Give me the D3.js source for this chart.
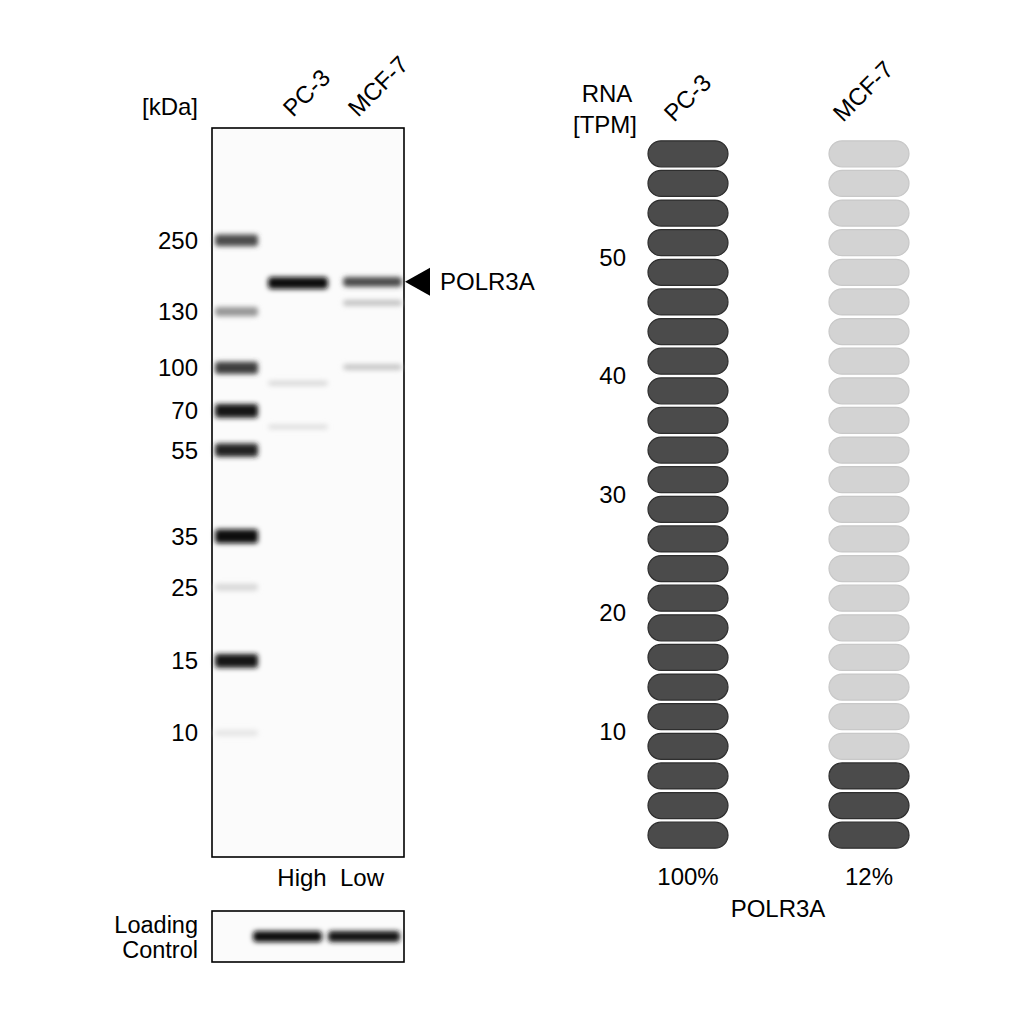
<!DOCTYPE html>
<html><head><meta charset="utf-8">
<script src="https://cdn.jsdelivr.net/npm/d3@7"></script>
<style>body{margin:0;background:#fff}text{font-family:"Liberation Sans",Arial,sans-serif;fill:#000}</style>
</head><body>
<svg id="c" width="1024" height="1024"></svg>
<script>
// ---------- data ----------
const lanes = ["ladder", "PC-3", "MCF-7"];
const sampleLanes = ["PC-3", "MCF-7"];
const ladderKDa = [250, 130, 100, 70, 55, 35, 25, 15, 10];
const ladderMobility = [0.154, 0.252, 0.329, 0.388, 0.442, 0.560, 0.630, 0.731, 0.830];
const ladderIntensity = [0.72, 0.4, 0.78, 0.95, 0.9, 0.98, 0.12, 0.95, 0.06];
const bandLane = ["PC-3", "PC-3", "PC-3", "MCF-7", "MCF-7", "MCF-7"];
const bandMobility = [0.2126, 0.350, 0.410, 0.211, 0.240, 0.328];
const bandIntensity = [1.0, 0.12, 0.10, 0.72, 0.22, 0.2];
const loadingIntensity = [1.0, 0.95];
const expressionLevel = ["High", "Low"];
const targetName = "POLR3A";
const targetMobility = 0.211;
const rnaCells = ["PC-3", "MCF-7"];
const rnaTPM = [61.8, 7.4];
const rnaPercent = ["100%", "12%"];
const rnaTicks = [10, 20, 30, 40, 50];
const pillCount = 24, pillStep = 2.5;

// ---------- setup ----------
const FS = 24;
const svg = d3.select("#c");
const defs = svg.append("defs");
const f = defs.append("filter").attr("id", "blur").attr("x", "-20%").attr("y", "-300%").attr("width", "140%").attr("height", "700%");
f.append("feGaussianBlur").attr("stdDeviation", "2.4 2.8");

// ---------- western blot ----------
const gel = {x0: 212, x1: 404, y0: 128, y1: 857};
const y = d3.scaleLinear().domain([0, 1]).range([gel.y0, gel.y1]);
const x = d3.scaleBand().domain(lanes).range([gel.x0, gel.x1]);
const laneInset = {"ladder": [3, 46], "PC-3": [-8, 52], "MCF-7": [3, 62]};
const laneLabelOffset = {"PC-3": 17, "MCF-7": 18};
const levelCenter = {"PC-3": 26, "MCF-7": 22};
const gray = d3.scaleLinear().domain([0, 1]).range(["#f4f4f4", "#0a0a0a"]);

const gG = svg.append("g");
gG.append("rect").attr("x", gel.x0).attr("y", gel.y0).attr("width", gel.x1 - gel.x0).attr("height", gel.y1 - gel.y0)
  .attr("fill", "#fbfbfb").attr("stroke", "#000").attr("stroke-width", 1.6);
const bandsG = gG.append("g").attr("filter", "url(#blur)");
bandsG.selectAll("rect.ladder").data(ladderKDa).join("rect")
  .attr("x", x("ladder") + laneInset.ladder[0])
  .attr("width", laneInset.ladder[1] - laneInset.ladder[0])
  .attr("y", (d, i) => y(ladderMobility[i]) - (3 + 4 * ladderIntensity[i]))
  .attr("height", (d, i) => 2 * (3 + 4 * ladderIntensity[i]))
  .attr("rx", 3)
  .attr("fill", (d, i) => gray(ladderIntensity[i]));
bandsG.selectAll("rect.band").data(bandMobility).join("rect")
  .attr("x", (d, i) => x(bandLane[i]) + laneInset[bandLane[i]][0])
  .attr("width", (d, i) => laneInset[bandLane[i]][1] - laneInset[bandLane[i]][0])
  .attr("y", (d, i) => y(d) - (2 + 4 * bandIntensity[i]))
  .attr("height", (d, i) => 2 * (2 + 4 * bandIntensity[i]))
  .attr("rx", 4)
  .attr("fill", (d, i) => gray(bandIntensity[i]));

// marker labels
gG.selectAll("text.mk").data(ladderKDa).join("text")
  .attr("x", 198).attr("y", (d, i) => y(ladderMobility[i]))
  .attr("dy", "0.35em").attr("text-anchor", "end").attr("font-size", FS).text(d => d);
gG.append("text").attr("x", 198).attr("y", 115).attr("text-anchor", "end").attr("font-size", FS).text("[kDa]");
// lane labels
gG.selectAll("text.lane").data(sampleLanes).join("text")
  .attr("transform", d => `translate(${x(d) + laneLabelOffset[d]},${118}) rotate(-45)`)
  .attr("font-size", FS).text(d => d);
// expression level
gG.selectAll("text.lvl").data(expressionLevel).join("text")
  .attr("x", (d, i) => x(sampleLanes[i]) + levelCenter[sampleLanes[i]])
  .attr("y", 886).attr("text-anchor", "middle").attr("font-size", FS).text(d => d);
// arrow + target
const ty = y(targetMobility);
gG.append("path").attr("d", `M${gel.x1 + 1},${ty} L${gel.x1 + 26},${ty - 14} L${gel.x1 + 26},${ty + 14} Z`).attr("fill", "#000");
gG.append("text").attr("x", gel.x1 + 36).attr("y", ty).attr("dy", "0.35em").attr("font-size", FS).text(targetName);

// loading control
const lc = {y0: 911, y1: 962};
const lcInset = {"PC-3": [-23, 46], "MCF-7": [-12, 60]};
gG.append("rect").attr("x", gel.x0).attr("y", lc.y0).attr("width", gel.x1 - gel.x0).attr("height", lc.y1 - lc.y0)
  .attr("fill", "#fbfbfb").attr("stroke", "#000").attr("stroke-width", 1.6);
gG.append("g").attr("filter", "url(#blur)").selectAll("rect").data(loadingIntensity).join("rect")
  .attr("x", (d, i) => x(sampleLanes[i]) + lcInset[sampleLanes[i]][0])
  .attr("width", (d, i) => lcInset[sampleLanes[i]][1] - lcInset[sampleLanes[i]][0])
  .attr("y", (lc.y0 + lc.y1) / 2 - 5.5).attr("height", 11).attr("rx", 4)
  .attr("fill", d => gray(d));
gG.append("text").attr("x", 198).attr("y", 933).attr("text-anchor", "end").attr("font-size", 23.5).text("Loading");
gG.append("text").attr("x", 198).attr("y", 958).attr("text-anchor", "end").attr("font-size", 23.5).text("Control");

// ---------- RNA pills ----------
const rG = svg.append("g");
const ry = d3.scaleLinear().domain([0, pillCount * pillStep]).range([850, 139]);
const rx = d3.scaleBand().domain(rnaCells).range([648, 909]).paddingInner(0.558).paddingOuter(0);
const rnaLabelOffset = {"PC-3": 26, "MCF-7": 14};
const pillIdx = d3.range(pillCount);
const pillH = ry(0) - ry(pillStep);
rnaCells.forEach((c, ci) => {
  const filled = Math.min(pillCount, Math.round(rnaTPM[ci] / pillStep));
  rG.selectAll(null).data(pillIdx).join("rect")
    .attr("x", rx(c)).attr("width", rx.bandwidth())
    .attr("y", k => ry((k + 1) * pillStep) + 1.8)
    .attr("height", pillH - 3.6)
    .attr("rx", 13).attr("ry", 13)
    .attr("fill", k => k < filled ? "#4b4b4b" : "#d3d3d3")
    .attr("stroke", k => k < filled ? "#2e2e2e" : "#c8c8c8")
    .attr("stroke-width", 1.2);
  rG.append("text").attr("x", rx(c) + rx.bandwidth() / 2).attr("y", 885).attr("text-anchor", "middle")
    .attr("font-size", FS).text(rnaPercent[ci]);
  rG.append("text").attr("transform", `translate(${rx(c) + rnaLabelOffset[c]},${123}) rotate(-45)`).attr("font-size", FS).text(c);
});
rG.selectAll("text.tk").data(rnaTicks).join("text")
  .attr("x", 626).attr("y", d => ry(d)).attr("dy", "0.35em").attr("text-anchor", "end").attr("font-size", FS).text(d => d);
rG.append("text").attr("x", 607).attr("y", 102).attr("text-anchor", "middle").attr("font-size", FS).text("RNA");
rG.append("text").attr("x", 605).attr("y", 133).attr("text-anchor", "middle").attr("font-size", FS).text("[TPM]");
rG.append("text").attr("x", 778).attr("y", 917).attr("text-anchor", "middle").attr("font-size", FS).text(targetName);
</script>
</body></html>
